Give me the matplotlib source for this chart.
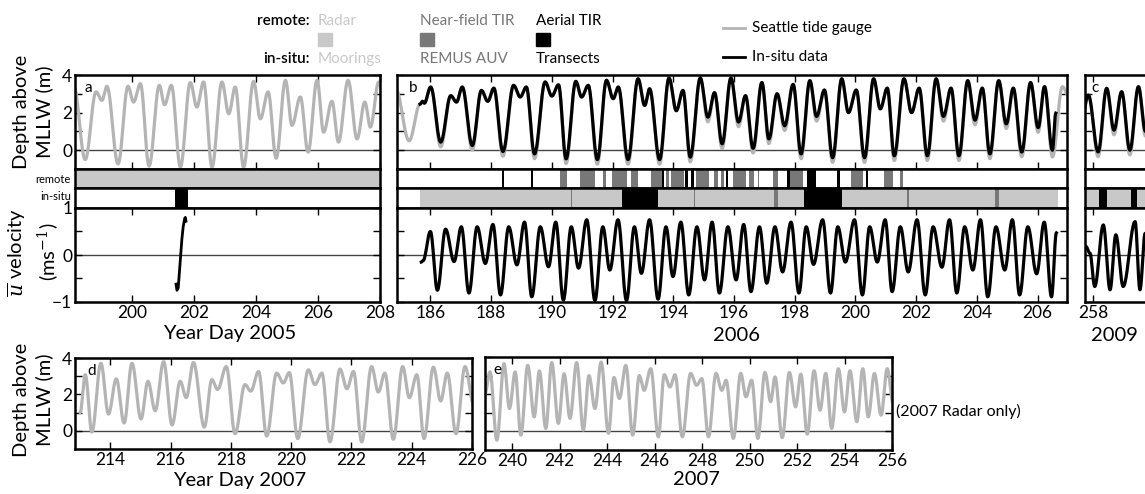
import numpy as np
import matplotlib
matplotlib.use('Agg')
import matplotlib.pyplot as plt
from matplotlib.patches import Rectangle
from matplotlib.lines import Line2D

plt.rcParams['font.family'] = ['Lato', 'DejaVu Sans']
plt.rcParams['mathtext.fontset'] = 'dejavuserif'

GAUGE = '#b4b4b4'
LIGHT = '#c8c8c8'
MID = '#787878'

# ---- tide extremes (year day, m above MLLW) ----
a_gauge_t = [198.12, 198.49, 198.84, 199.03, 199.19, 199.55, 199.87, 200.05, 200.27, 200.55,
             200.88, 201.05, 201.27, 201.56, 201.88, 202.09, 202.31, 202.58, 202.90, 203.12,
             203.33, 203.60, 203.92, 204.14, 204.39, 204.65, 204.95, 205.16, 205.43, 205.68,
             205.97, 206.18, 206.45, 206.66, 206.97, 207.26, 207.51, 207.69, 207.96, 208.15]
a_gauge_h = [3.4, -0.5, 3.1, 2.65, 3.4, -0.73, 3.4, 2.56, 3.54, -0.85,
             3.45, 2.42, 3.45, -0.9, 3.6, 2.3, 3.63, -0.9, 3.63, 1.94,
             3.36, -0.9, 3.66, 1.67, 3.1, -0.43, 3.72, 1.32, 2.83, -0.1,
             3.72, 0.96, 2.6, 0.43, 3.72, 0.6, 2.56, 1.23, 3.63, 2.5]

# panel b in-situ record
b_insitu_t = [185.66, 185.74, 185.80, 186.01, 186.34, 186.67, 186.86, 187.05, 187.38, 187.68,
              187.89, 188.09, 188.39, 188.74, 188.96, 189.16, 189.43, 189.78, 190.00, 190.22,
              190.47, 190.79, 190.98, 191.20, 191.50, 191.80, 192.02, 192.19, 192.51, 192.84,
              193.06, 193.22, 193.55, 193.86, 194.10, 194.32, 194.56, 194.89, 195.14, 195.36,
              195.61, 195.90, 196.15, 196.38, 196.63, 196.92, 197.15, 197.42, 197.67, 197.95,
              198.21, 198.50, 198.72, 198.98, 199.25, 199.55, 199.77, 200.03, 200.30, 200.60,
              200.82, 201.05, 201.28, 201.60, 201.85, 202.10, 202.37, 202.66, 202.90, 203.15,
              203.41, 203.70, 203.94, 204.18, 204.43, 204.72, 204.97, 205.20, 205.48, 205.77,
              206.02, 206.23, 206.49, 206.60]
b_insitu_h = [2.45, 2.6, 2.5, 3.36, 0.43, 2.9, 2.56, 3.36, 0.25, 3.18,
              2.6, 3.3, -0.07, 3.45, 2.83, 3.36, -0.2, 3.63, 2.88, 3.48,
              -0.46, 3.66, 2.83, 3.45, -0.5, 3.72, 2.74, 3.36, -0.5, 3.8,
              2.38, 3.27, -0.5, 3.84, 2.1, 3.18, -0.37, 3.84, 1.76, 3.06,
              0.34, 3.84, 1.5, 2.9, 0.1, 3.6, 0.6, 3.0, 1.3, 3.5,
              -0.2, 3.7, 1.8, 3.2, -0.4, 3.8, 2.0, 3.2, -0.4, 3.8,
              2.2, 3.3, -0.3, 3.8, 2.0, 3.3, -0.3, 3.8, 1.8, 3.3,
              -0.3, 3.7, 1.6, 3.3, -0.2, 3.7, 1.4, 3.3, -0.1, 3.6,
              1.2, 3.38, 0.0, 1.97]
b_head_t = [184.85, 185.30, 185.66]
b_head_h = [3.3, 0.5, 2.45]
b_tail_t = [206.49, 206.82, 207.05]
b_tail_h = [-0.36, 3.38, 2.8]
b_trough_gap = 0.25   # gauge lows sit a little under the in-situ lows

c_insitu_t = [257.60, 257.85, 258.17, 258.45, 258.69, 258.94, 259.21, 259.49, 259.72, 259.95]
c_insitu_h = [1.5, 2.93, -0.09, 3.29, 1.07, 3.11, 0.0, 3.38, 1.0, 3.2]

d_gauge_t = [213.0, 213.17, 213.39, 213.69, 213.94, 214.20, 214.46, 214.72, 215.02, 215.25,
             215.49, 215.77, 216.05, 216.32, 216.52, 216.76, 217.12, 217.37, 217.56, 217.85,
             218.14, 218.47, 218.66, 218.92, 219.19, 219.52, 219.74, 219.94, 220.22, 220.57,
             220.79, 221.02, 221.29, 221.62, 221.85, 222.07, 222.34, 222.67, 222.89, 223.11,
             223.39, 223.70, 223.92, 224.17, 224.41, 224.72, 224.96, 225.18, 225.47, 225.77,
             226.05]
d_gauge_h = [1.0, 3.08, -0.07, 3.71, 0.92, 2.85, 0.43, 3.71, 0.65, 2.72,
             1.1, 3.8, 0.32, 2.72, 1.82, 3.75, 0.2, 2.81, 2.27, 3.53,
             -0.16, 2.54, 2.18, 3.26, -0.29, 3.17, 2.63, 3.2, -0.43, 3.35,
             2.54, 3.17, -0.61, 3.39, 2.31, 3.26, -0.61, 3.53, 2.13, 3.17,
             -0.47, 3.53, 1.82, 3.08, -0.43, 3.5, 1.64, 3.17, -0.16, 3.53,
             1.5]

e_gauge_t = [238.85, 239.07, 239.36, 239.66, 239.89, 240.13, 240.37, 240.66, 240.93, 241.15,
             241.42, 241.67, 241.95, 242.19, 242.44, 242.72, 243.00, 243.24, 243.49, 243.75,
             244.06, 244.29, 244.52, 244.79, 245.08, 245.36, 245.56, 245.84, 246.16, 246.41,
             246.65, 246.86, 247.17, 247.52, 247.77, 247.99, 248.27, 248.59, 248.83, 249.01,
             249.32, 249.63, 249.85, 250.09, 250.35, 250.65, 250.89, 251.07, 251.38, 251.68,
             251.94, 252.16, 252.43, 252.72, 252.97, 253.21, 253.46, 253.74, 254.00, 254.23,
             254.52, 254.77, 255.00, 255.26, 255.54, 255.80, 256.05]
e_gauge_h = [2.0, 3.2, -0.47, 3.64, 1.23, 3.2, -0.2, 3.55, 0.78, 3.25,
             0.16, 3.7, 0.43, 3.1, 0.7, 3.7, 0.07, 3.0, 1.23, 3.73,
             -0.1, 2.9, 1.77, 3.55, -0.2, 3.0, 2.21, 3.37, -0.29, 3.05,
             2.39, 3.05, -0.29, 3.12, 2.48, 2.84, -0.29, 3.12, 2.21, 2.75,
             -0.38, 3.12, 1.86, 2.75, -0.38, 3.17, 1.6, 2.93, -0.34, 3.17,
             1.32, 3.08, -0.15, 3.26, 1.14, 3.12, 0.16, 3.37, 1.05, 3.26,
             0.52, 3.37, 0.78, 3.12, 0.87, 3.37, 1.5]

# ---- depth-mean velocity (m/s) ----
a_vel_t = [201.42, 201.45, 201.49, 201.53, 201.57, 201.61, 201.65, 201.70, 201.72, 201.74]
a_vel_v = [-0.62, -0.75, -0.7, -0.35, 0.0, 0.35, 0.6, 0.78, 0.8, 0.72]

b_vel_t = [185.70, 185.76, 186.00, 186.23, 186.50, 186.78, 187.02, 187.27, 187.54, 187.81,
           188.06, 188.31, 188.58, 188.85, 189.10, 189.34, 189.62, 189.89, 190.13, 190.38,
           190.64, 190.88, 191.15, 191.42, 191.68, 191.91, 192.18, 192.46, 192.72, 192.95,
           193.22, 193.50, 193.76, 193.99, 194.25, 194.51, 194.78, 195.03, 195.28, 195.52,
           195.80, 196.07, 196.32, 196.56, 196.84, 197.08, 197.35, 197.60, 197.88, 198.14,
           198.38, 198.62, 198.92, 199.18, 199.42, 199.67, 199.97, 200.23, 200.47, 200.72,
           200.98, 201.21, 201.48, 201.74, 202.03, 202.30, 202.56, 202.85, 203.10, 203.34,
           203.60, 203.87, 204.12, 204.36, 204.63, 204.92, 205.17, 205.41, 205.68, 205.97,
           206.22, 206.46, 206.62]
b_vel_v = [-0.15, -0.12, 0.5, -0.75, 0.55, -0.14, 0.6, -0.81, 0.6, -0.18,
           0.65, -0.85, 0.6, -0.21, 0.7, -0.89, 0.6, -0.25, 0.7, -0.96,
           0.6, -0.28, 0.75, -0.97, 0.6, -0.32, 0.75, -0.97, 0.6, -0.39,
           0.75, -0.94, 0.6, -0.46, 0.7, -0.85, 0.6, -0.53, 0.7, -0.81,
           0.6, -0.53, 0.65, -0.78, 0.6, -0.6, 0.6, -0.36, 0.7, -0.81,
           0.6, -0.2, 0.75, -0.81, 0.6, -0.15, 0.75, -0.85, 0.6, -0.15,
           0.75, -0.78, 0.6, -0.36, 0.75, -0.85, 0.6, -0.26, 0.75, -0.81,
           0.6, -0.32, 0.75, -0.89, 0.6, -0.32, 0.75, -0.85, 0.6, -0.4,
           0.7, -0.89, 0.47]

c_vel_t = [257.77, 257.90, 258.06, 258.34, 258.56, 258.75, 258.99, 259.38, 259.54, 259.71, 259.9]
c_vel_v = [0.18, 0.04, -0.67, 0.64, -0.74, 0.43, -0.67, 0.71, -0.74, 0.46, -0.6]

# ---- data coverage strips (start, end, kind) ----
a_remote = [(198.0, 208.2, 'radar')]
a_insitu = [(201.39, 201.81, 'transect')]
b_remote = [(188.36, 188.44, 'aerial'), (189.31, 189.38, 'aerial'), (190.26, 190.49, 'nf'),
            (190.92, 191.41, 'nf'), (191.70, 191.77, 'nf'), (191.97, 192.46, 'nf'),
            (192.62, 192.85, 'nf'), (193.28, 193.64, 'nf'), (193.64, 193.70, 'aerial'),
            (193.77, 193.87, 'nf'), (193.93, 194.36, 'nf'), (194.39, 194.49, 'aerial'),
            (194.59, 194.69, 'aerial'), (194.75, 195.18, 'nf'), (195.34, 195.48, 'nf'),
            (195.57, 195.67, 'nf'), (195.74, 195.80, 'aerial'), (195.97, 196.39, 'nf'),
            (196.49, 196.66, 'nf'), (196.79, 196.82, 'nf'), (197.28, 197.44, 'nf'),
            (197.74, 197.84, 'aerial'), (197.84, 198.26, 'nf'), (198.39, 198.69, 'aerial'),
            (199.38, 199.48, 'aerial'), (199.84, 200.26, 'nf'), (200.36, 200.43, 'aerial'),
            (200.95, 201.25, 'nf'), (201.48, 201.57, 'nf')]
b_insitu = [(185.67, 206.66, 'mooring'), (190.63, 190.68, 'remus'), (192.30, 193.51, 'transect'),
            (194.67, 194.71, 'remus'), (197.31, 197.44, 'remus'), (198.30, 199.57, 'transect'),
            (201.70, 201.77, 'remus'), (204.59, 204.72, 'remus')]
c_insitu = [(257.6, 260.5, 'mooring'), (258.20, 258.46, 'transect'), (259.25, 259.44, 'transect')]

KIND_COLOR = {'radar': LIGHT, 'mooring': LIGHT, 'nf': MID, 'remus': MID,
              'aerial': 'k', 'transect': 'k'}

W, H = 1145, 494
fig = plt.figure(figsize=(W / 100, H / 100), dpi=100)


def box(x0, y0, x1, y1):
    return fig.add_axes([x0 / W, 1 - y1 / H, (x1 - x0) / W, (y1 - y0) / H])


def smooth(t, h, n=24):
    # half-cosine between successive extremes
    t = np.asarray(t, float)
    h = np.asarray(h, float)
    s = np.linspace(0, 1, n, endpoint=False)
    tt = [t[i] + s * (t[i + 1] - t[i]) for i in range(len(t) - 1)] + [t[-1:]]
    hh = [h[i] + (h[i + 1] - h[i]) * (1 - np.cos(np.pi * s)) / 2 for i in range(len(t) - 1)] + [h[-1:]]
    return np.concatenate(tt), np.concatenate(hh)


def frame(ax, lw=1.8):
    for sp in ax.spines.values():
        sp.set_linewidth(lw)


def depth_axes(ax, xlim, xticks, ylab=True, xlabels=False):
    ax.set_xlim(*xlim)
    ax.set_ylim(-1, 4)
    ax.set_xticks(xticks)
    ax.set_yticks([0, 2, 4])
    ax.set_yticks([1, 3], minor=True)
    ax.axhline(0, color='#444444', lw=1.0, zorder=1)
    ax.tick_params(direction='in', top=True, right=True, length=5, width=1,
                   labelsize=12.5, pad=2, labelbottom=xlabels, labelleft=ylab)
    ax.tick_params(which='minor', direction='in', right=True, left=True, length=5, width=1)
    frame(ax)


def vel_axes(ax, xlim, xticks, ylab=True):
    ax.set_xlim(*xlim)
    ax.set_ylim(-1, 1)
    ax.set_xticks(xticks)
    ax.set_yticks([-1, 0, 1])
    ax.set_yticks([-0.5, 0.5], minor=True)
    ax.axhline(0, color='#444444', lw=1.0, zorder=1)
    ax.tick_params(direction='in', top=True, right=True, length=5, width=1,
                   labelsize=12.5, pad=2, labelleft=ylab)
    ax.tick_params(which='minor', direction='in', right=True, left=True, length=5, width=1)
    frame(ax)


def strip(ax, xlim, spans):
    ax.set_xlim(*xlim)
    ax.set_ylim(0, 1)
    ax.set_xticks([])
    ax.set_yticks([])
    for s, e, kind in spans:
        ax.axvspan(s, e, color=KIND_COLOR[kind], lw=0)
    frame(ax)


# ---------------- panel a ----------------
xa = (198.16, 208.0)
ax = box(75, 75, 380, 169)
depth_axes(ax, xa, range(200, 209, 2))
ax.plot(*smooth(a_gauge_t, a_gauge_h), color=GAUGE, lw=2.3)
ax.text(0.03, 0.86, 'a', transform=ax.transAxes, fontsize=11, va='center')
strip(box(75, 169, 380, 188), xa, a_remote)
strip(box(75, 188, 380, 208), xa, a_insitu)
ax = box(75, 208, 380, 302)
vel_axes(ax, xa, range(200, 209, 2))
ax.plot(a_vel_t, a_vel_v, color='k', lw=2.0)

# ---------------- panel b ----------------
xb = (184.9, 206.97)
b_low = np.array(b_insitu_h) < 2.0
b_gauge_t = b_head_t[:-1] + b_insitu_t[:-2] + b_tail_t
b_gauge_h = b_head_h[:-1] + list(np.where(b_low, np.array(b_insitu_h) - b_trough_gap,
                                          b_insitu_h))[:-2] + b_tail_h
ax = box(397, 75, 1067, 169)
depth_axes(ax, xb, range(186, 207, 2), ylab=False)
ax.plot(*smooth(b_gauge_t, b_gauge_h), color=GAUGE, lw=2.3)
ax.plot(*smooth(b_insitu_t, b_insitu_h), color='k', lw=2.3)
ax.text(0.018, 0.86, 'b', transform=ax.transAxes, fontsize=11, va='center')
strip(box(397, 169, 1067, 188), xb, b_remote)
strip(box(397, 188, 1067, 208), xb, b_insitu)
ax = box(397, 208, 1067, 302)
vel_axes(ax, xb, range(186, 207, 2), ylab=False)
ax.plot(*smooth(b_vel_t, b_vel_v), color='k', lw=2.3)

# ---------------- panel c (runs off the right edge) ----------------
xc = (257.74, 259.95)
x1c = 1093 + (xc[1] - 258) * 30.5
ax = box(1085, 75, x1c, 169)
depth_axes(ax, xc, [258], ylab=False)
c_low = np.array(c_insitu_h) < 2.0
ax.plot(*smooth(c_insitu_t, np.where(c_low, np.array(c_insitu_h) - b_trough_gap, c_insitu_h)),
        color=GAUGE, lw=2.3)
ax.plot(*smooth(c_insitu_t, c_insitu_h), color='k', lw=2.3)
ax.text(0.1, 0.86, 'c', transform=ax.transAxes, fontsize=11, va='center')
strip(box(1085, 169, x1c, 188), xc, [])
strip(box(1085, 188, x1c, 208), xc, c_insitu)
ax = box(1085, 208, x1c, 302)
vel_axes(ax, xc, [258], ylab=False)
ax.plot(*smooth(c_vel_t, c_vel_v), color='k', lw=2.3)

# ---------------- panels d, e ----------------
xd = (212.83, 226.0)
ax = box(75, 358, 472, 449)
depth_axes(ax, xd, range(214, 227, 2), xlabels=True)
ax.plot(*smooth(d_gauge_t, d_gauge_h), color=GAUGE, lw=2.3)
ax.text(0.03, 0.86, 'd', transform=ax.transAxes, fontsize=11, va='center')

xe = (238.86, 256.0)
ax = box(485, 357, 892, 450)
depth_axes(ax, xe, range(240, 257, 2), ylab=False, xlabels=True)
ax.plot(*smooth(e_gauge_t, e_gauge_h), color=GAUGE, lw=2.3)
ax.text(0.02, 0.86, 'e', transform=ax.transAxes, fontsize=11, va='center')


def ftext(x, y, s, **kw):
    fig.text(x / W, 1 - y / H, s, **kw)


# axis titles
ftext(230, 333, 'Year Day 2005', fontsize=14.5, ha='center', va='center')
ftext(737, 335, '2006', fontsize=14.5, ha='center', va='center')
ftext(1114, 335, '2009', fontsize=14.5, ha='center', va='center')
ftext(240, 480, 'Year Day 2007', fontsize=14.5, ha='center', va='center')
ftext(696, 479, '2007', fontsize=14.5, ha='center', va='center')
ftext(896, 411, '(2007 Radar only)', fontsize=11.5, ha='left', va='center')
for yc in (112, 400):
    ftext(33, yc, 'Depth above\nMLLW (m)', fontsize=14.5, ha='center', va='center',
          rotation=90, linespacing=1.3)
ftext(33, 252, '$\\overline{u}$ velocity\n(ms$^{-1}$)', fontsize=14.5, ha='center',
      va='center', rotation=90, linespacing=1.3)
ftext(71, 179, 'remote', fontsize=8, ha='right', va='center')
ftext(71, 196.5, 'in-situ', fontsize=8, ha='right', va='center')

# legend
ftext(310, 21, 'remote:', fontsize=11, ha='right', va='center', fontweight='semibold')
ftext(310, 59, 'in-situ:', fontsize=11, ha='right', va='center', fontweight='semibold')
for x0, top, bottom, col in [(318, 'Radar', 'Moorings', LIGHT),
                             (420, 'Near-field TIR', 'REMUS AUV', MID),
                             (536, 'Aerial TIR', 'Transects', 'k')]:
    ftext(x0, 21, top, fontsize=11, ha='left', va='center', color=col)
    ftext(x0, 59, bottom, fontsize=11, ha='left', va='center', color=col)
    fig.add_artist(Rectangle((x0 / W, 1 - 46 / H), 14 / W, 13 / H, color=col,
                             transform=fig.transFigure))
for y0, col, lab in [(28, GAUGE, 'Seattle tide gauge'), (57, 'k', 'In-situ data')]:
    fig.add_artist(Line2D([723 / W, 745 / W], [1 - y0 / H, 1 - y0 / H], color=col, lw=2,
                          transform=fig.transFigure))
    ftext(752, y0, lab, fontsize=11, ha='left', va='center')

fig.savefig('out.png', dpi=100)
